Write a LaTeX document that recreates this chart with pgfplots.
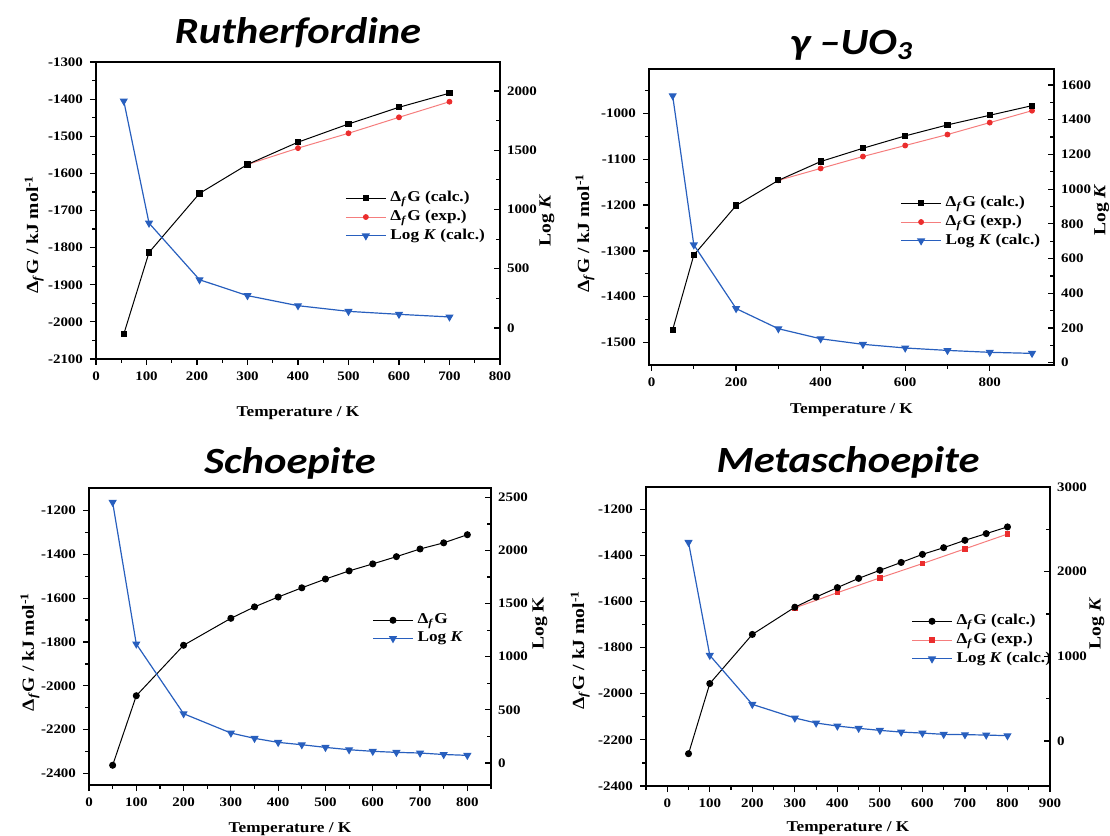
\documentclass[border=0pt]{standalone}
\usepackage{fontspec}
\setmainfont{Liberation Serif}[FakeStretch=1.15]
\newfontfamily\titlefont{Carlito}[FakeStretch=1.15]
\usepackage{pgfplots}
\pgfplotsset{compat=1.18}

\definecolor{cblue}{RGB}{40,95,190}
\definecolor{cred}{RGB}{235,45,45}
\definecolor{lred}{RGB}{245,125,125}

\newcommand{\lblfont}{\fontsize{7.5}{8}\selectfont\bfseries}
\newcommand{\ylblfont}{\fontsize{8.5}{9}\selectfont\bfseries}

\pgfplotsset{
  panel/.style={scale only axis, clip=false,
    tick label style={font=\fontsize{6.5}{7}\selectfont\bfseries},
    /pgf/number format/assume math mode=true,
    /pgf/number format/1000 sep={},
    major tick length=3pt, minor tick length=1.8pt,
    every tick/.style={black, line width=0.6pt},
    axis line style={line width=0.7pt},
  },
  leftax/.style={panel, tick align=outside, xtick pos=bottom, ytick pos=left,
    minor x tick num=1, minor y tick num=1,
    every axis x label/.style={at={(axis description cs:0.5,0)}, anchor=base, font=\lblfont},
    every axis y label/.style={rotate=90, anchor=center, font=\ylblfont},
    title style={font=\titlefont\bfseries\itshape\fontsize{18.5}{20}\selectfont,
      at={(axis description cs:0.5,1)}, anchor=base},
  },
  rightax/.style={panel, axis x line=none, axis y line*=right, tick align=inside,
    minor y tick num=1,
    every axis y label/.style={rotate=90, anchor=center, font=\ylblfont},
    legend cell align=left,
    legend image code/.code={\draw[mark repeat=2,mark phase=2,##1] plot coordinates {(0pt,0pt) (10pt,0pt) (20pt,0pt)};},
    legend style={draw=none, fill=none, font=\lblfont,
      anchor=west, inner sep=0pt, row sep=-1.3pt},
  },
  calcsq/.style={black, line width=0.5pt, mark=square*, mark size=1.3pt},
  calcci/.style={black, line width=0.5pt, mark=*, mark size=1.5pt},
  expci/.style={lred, line width=0.5pt, mark=*, mark size=1.2pt, mark options={draw=cred, fill=cred}},
  expsq/.style={lred, line width=0.5pt, mark=square*, mark size=1.1pt, mark options={draw=cred, fill=cred}},
  logk/.style={cblue, line width=0.6pt, mark=triangle*, mark size=1.8pt, mark options={rotate=180, fill=cblue}},
}

\begin{document}
\begin{tikzpicture}
\useasboundingbox (0,0) rectangle (555pt,418pt);

%%%%%%%%%%%%%%%% Rutherfordine
\begin{axis}[leftax, at={(48pt,238.5pt)}, anchor=south west, width=202pt, height=148.5pt,
  xmin=0, xmax=800, ymin=-2100, ymax=-1300, xtick distance=100, ytick distance=100,
  title={Rutherfordine}, title style={yshift=3pt},
  xlabel={Temperature / K}, xlabel style={yshift=-29pt},
  ylabel={Δ\textsubscript{\textit{f}}G / kJ mol\textsuperscript{-1}},
  ylabel style={at={(axis description cs:-0.153,0.419)}}]
\addplot[expci] coordinates {(300,-1576) (400,-1532) (500,-1492) (600,-1449) (700,-1407)};
\addplot[calcsq] coordinates {(55,-2033) (105,-1813) (205,-1654) (300,-1576) (400,-1516) (500,-1467) (600,-1422) (700,-1384)};
\end{axis}
\begin{axis}[rightax, at={(48pt,238.5pt)}, anchor=south west, width=202pt, height=148.5pt,
  xmin=0, xmax=800, ymin=-262, ymax=2245, ytick={0,500,...,2000},
  ylabel={Log \textit{K}}, ylabel style={at={(axis description cs:1.116,0.466)}},
  legend style={at={(axis description cs:0.616,0.478)}}]
\addlegendimage{calcsq}\addlegendentry{Δ\textsubscript{\textit{f}}G (calc.)}
\addlegendimage{expci}\addlegendentry{Δ\textsubscript{\textit{f}}G (exp.)}
\addplot[logk] coordinates {(55,1916) (105,885) (205,407) (300,273) (400,188) (500,140) (600,115) (700,93)};
\addlegendentry{Log \textit{K} (calc.)}
\end{axis}

%%%%%%%%%%%%%%%% gamma-UO3
\begin{axis}[leftax, at={(324.5pt,235.5pt)}, anchor=south west, width=202.5pt, height=148pt,
  xmin=-6, xmax=952, ymin=-1549, ymax=-903, xtick={0,200,...,800}, ytick distance=100,
  title={γ –UO\textsubscript{3}}, title style={yshift=1.5pt},
  xlabel={Temperature / K}, xlabel style={yshift=-24.5pt},
  ylabel={Δ\textsubscript{\textit{f}}G / kJ mol\textsuperscript{-1}},
  ylabel style={at={(axis description cs:-0.158,0.446)}}]
\addplot[expci] coordinates {(300,-1146) (400,-1120) (500,-1094) (600,-1070) (700,-1046) (800,-1020) (900,-994)};
\addplot[calcsq] coordinates {(50,-1472) (100,-1309) (200,-1201) (300,-1146) (400,-1105) (500,-1076) (600,-1049) (700,-1025) (800,-1004) (900,-983)};
\end{axis}
\begin{axis}[rightax, at={(324.5pt,235.5pt)}, anchor=south west, width=202.5pt, height=148pt,
  xmin=-6, xmax=952, ymin=-13, ymax=1692, ytick={0,200,...,1600},
  ylabel={Log \textit{K}}, ylabel style={at={(axis description cs:1.118,0.524)}},
  legend style={at={(axis description cs:0.62,0.483)}}]
\addlegendimage{calcsq}\addlegendentry{Δ\textsubscript{\textit{f}}G (calc.)}
\addlegendimage{expci}\addlegendentry{Δ\textsubscript{\textit{f}}G (exp.)}
\addplot[logk] coordinates {(50,1538) (100,679) (200,312) (300,196) (400,138) (500,106) (600,85) (700,71) (800,60) (900,54)};
\addlegendentry{Log \textit{K} (calc.)}
\end{axis}

%%%%%%%%%%%%%%%% Schoepite
\begin{axis}[leftax, at={(44.5pt,25.5pt)}, anchor=south west, width=201pt, height=148.5pt,
  xmin=0, xmax=850, ymin=-2452, ymax=-1098, xtick distance=100, ytick={-2400,-2200,...,-1200},
  title={Schoepite}, title style={yshift=1.5pt},
  xlabel={Temperature / K}, xlabel style={yshift=-23.5pt},
  ylabel={Δ\textsubscript{\textit{f}}G / kJ mol\textsuperscript{-1}},
  ylabel style={at={(axis description cs:-0.147,0.449)}}]
\addplot[calcci] coordinates {(50,-2362) (100,-2045) (200,-1815) (300,-1692) (350,-1640) (400,-1595) (450,-1553) (500,-1513) (550,-1476) (600,-1444) (650,-1411) (700,-1376) (750,-1348) (800,-1311)};
\end{axis}
\begin{axis}[rightax, at={(44.5pt,25.5pt)}, anchor=south west, width=201pt, height=148.5pt,
  xmin=0, xmax=850, ymin=-207, ymax=2588, ytick={0,500,...,2500},
  ylabel={Log K}, ylabel style={at={(axis description cs:1.122,0.544)}},
  legend style={at={(axis description cs:0.704,0.524)}}]
\addlegendimage{calcci}\addlegendentry{Δ\textsubscript{\textit{f}}G}
\addplot[logk] coordinates {(50,2453) (100,1120) (200,464) (300,282) (350,232) (400,194) (450,172) (500,147) (550,125) (600,110) (650,100) (700,94) (750,80) (800,72)};
\addlegendentry{Log \textit{K}}
\end{axis}

%%%%%%%%%%%%%%%% Metaschoepite
\begin{axis}[leftax, at={(323pt,25pt)}, anchor=south west, width=202pt, height=149.5pt,
  xmin=-50, xmax=900, ymin=-2400, ymax=-1104, xtick distance=100, ytick={-2400,-2200,...,-1200},
  title={Metaschoepite}, title style={yshift=1.5pt},
  xlabel={Temperature / K}, xlabel style={yshift=-23pt},
  ylabel={Δ\textsubscript{\textit{f}}G / kJ mol\textsuperscript{-1}},
  ylabel style={at={(axis description cs:-0.163,0.455)}}]
\addplot[expsq] coordinates {(300,-1628) (400,-1562) (500,-1498) (600,-1436) (700,-1372) (800,-1308)};
\addplot[calcci] coordinates {(50,-2260) (100,-1956) (200,-1743) (300,-1625) (350,-1581) (400,-1540) (450,-1500) (500,-1465) (550,-1431) (600,-1396) (650,-1367) (700,-1335) (750,-1306) (800,-1277)};
\end{axis}
\begin{axis}[rightax, at={(323pt,25pt)}, anchor=south west, width=202pt, height=149.5pt,
  xmin=-50, xmax=900, ymin=-531, ymax=3000, ytick={0,1000,...,3000},
  ylabel={Log \textit{K}}, ylabel style={at={(axis description cs:1.116,0.544)}},
  legend style={at={(axis description cs:0.656,0.488)}}]
\addlegendimage{calcci}\addlegendentry{Δ\textsubscript{\textit{f}}G (calc.)}
\addlegendimage{expsq}\addlegendentry{Δ\textsubscript{\textit{f}}G (exp.)}
\addplot[logk] coordinates {(50,2346) (100,1012) (200,433) (300,272) (350,213) (400,177) (450,150) (500,126) (550,106) (600,94) (650,79) (700,75) (750,71) (800,63)};
\addlegendentry{Log \textit{K} (calc.)}
\end{axis}
\end{tikzpicture}
\end{document}
